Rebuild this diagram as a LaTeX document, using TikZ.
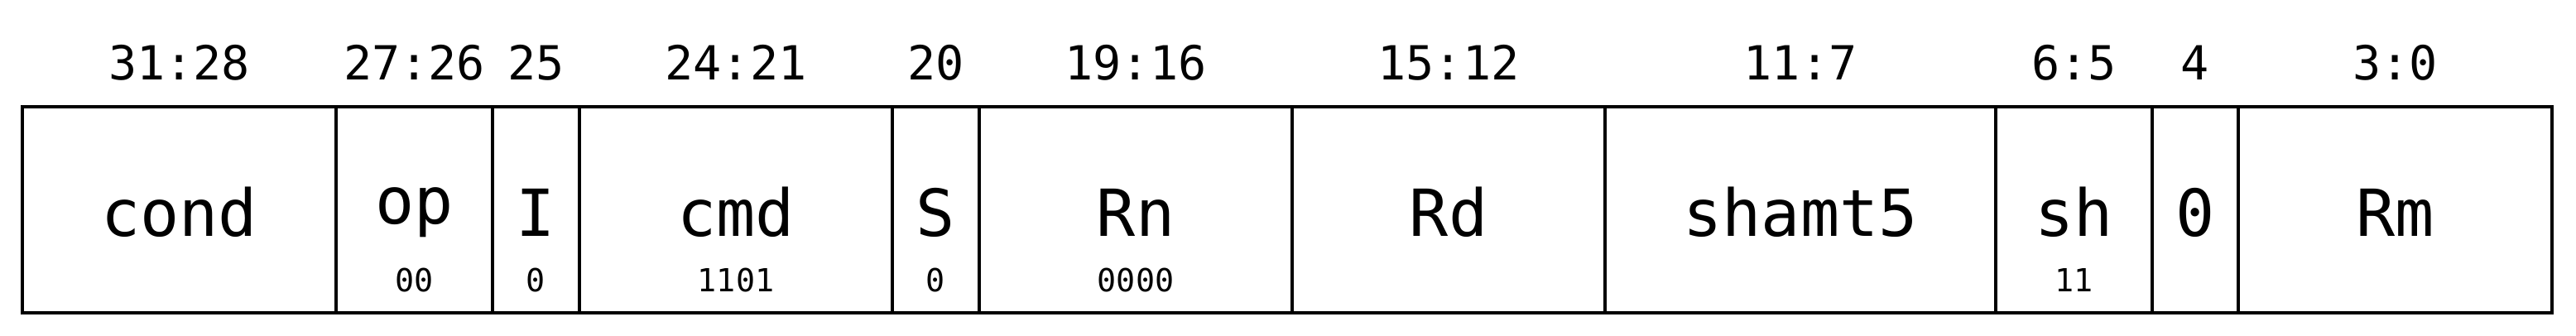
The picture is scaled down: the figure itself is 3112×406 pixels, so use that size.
\documentclass[tikz,border=0pt]{standalone}
\usepackage{fontspec}
\setmonofont{DejaVu Sans Mono}
\begin{document}
\begin{tikzpicture}[x=0.25pt,y=-0.25pt,
  field/.style={draw, line width=1.15pt, minimum height=62.25pt, inner sep=0pt, outer sep=0pt},
  lbl/.style={font=\ttfamily\fontsize{19.6}{20}\selectfont, anchor=base, inner sep=0pt},
  bitlbl/.style={font=\ttfamily\fontsize{14.2}{15}\selectfont, anchor=base, inner sep=0pt},
  vallbl/.style={font=\ttfamily\fontsize{9.6}{10}\selectfont, anchor=base, inner sep=0pt}]
\useasboundingbox (0,0) rectangle (3112,406);
\foreach \n/\l/\r/\t/\yb/\b/\v in {
  cond/27/406/cond/285/31:28/{},
  op/406/595/op/270/27:26/00,
  I/595/700/I/285/25/0,
  cmd/700/1078/cmd/285/24:21/1101,
  S/1078/1183/S/285/20/0,
  Rn/1183/1561/Rn/285/19:16/0000,
  Rd/1561/1939/Rd/285/15:12/{},
  shamt/1939/2411/shamt5/285/11:7/{},
  sh/2411/2600/sh/285/6:5/11,
  zero/2600/2704/0/285/4/{},
  Rm/2704/3083/Rm/285/3:0/{}}{
  \node[field, minimum width={(\r-\l)*0.25pt}] (\n) at ({(\l+\r)/2},253.5) {};
  \node[lbl] (\n-name) at ({(\l+\r)/2},\yb) {\t};
  \node[bitlbl] (\n-bits) at ({(\l+\r)/2},97) {\b};
  \node[vallbl] (\n-val) at ({(\l+\r)/2},352) {\v};
}
\end{tikzpicture}
\end{document}
